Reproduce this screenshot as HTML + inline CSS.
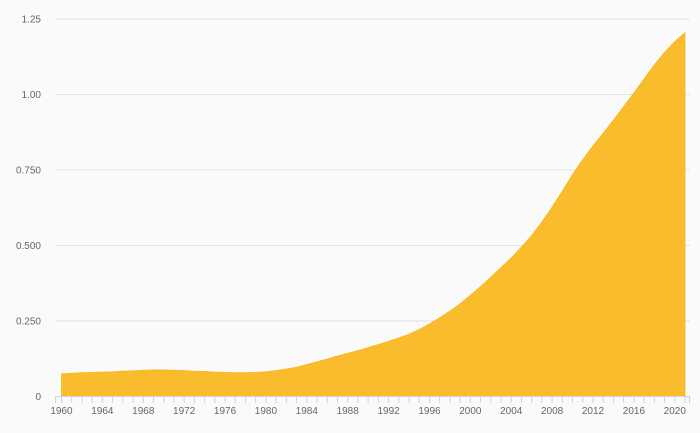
<!DOCTYPE html>
<html><head><meta charset="utf-8"><style>
body{margin:0;background:#fafafa;}
svg{display:block;font-family:"Liberation Sans",sans-serif;}
</style></head><body>
<svg width="700" height="433">
<rect width="700" height="433" fill="#fafafa"/>
<g id="grid"></g><g id="area"></g><g id="xaxis"></g><g id="yaxis"></g>
</svg>
<script>
const years=[];for(let y=1960;y<=2021;y++)years.push(y);
const values=[0.075,0.077,0.079,0.080,0.081,0.082,0.084,0.085,0.087,0.088,0.088,0.087,0.086,0.084,0.083,0.081,0.080,0.079,0.079,0.080,0.082,0.086,0.091,0.097,0.106,0.115,0.124,0.134,0.143,0.152,0.162,0.172,0.183,0.194,0.206,0.222,0.240,0.261,0.283,0.307,0.335,0.364,0.395,0.427,0.459,0.495,0.533,0.578,0.627,0.680,0.735,0.785,0.830,0.872,0.915,0.960,1.005,1.052,1.098,1.140,1.175,1.205];
const yTicks=[0,0.25,0.5,0.75,1.0,1.25];
const yTickLabels=["0","0.250","0.500","0.750","1.00","1.25"];
const ns="http://www.w3.org/2000/svg";
const X=y=>61.5+(y-1960)*(685-61.5)/61;
const Y=v=>396.5-v*(396.5-19)/1.25;
function mk(t,a,p){const e=document.createElementNS(ns,t);for(const k in a)e.setAttribute(k,a[k]);p.appendChild(e);return e;}
const grid=document.getElementById('grid'),yax=document.getElementById('yaxis');
yTicks.forEach((v,i)=>{
 if(v>0){const l=mk('line',{x1:55,x2:690,y1:Y(v),y2:Y(v),stroke:'#e3e3e3','stroke-width':1},grid);
 
 }
 const t=mk('text',{x:41,y:Y(v)+3.5,'text-anchor':'end','font-size':10,fill:'#666'},yax);t.textContent=yTickLabels[i];
 
 
});
let d='M'+X(years[0])+','+Y(0);
years.forEach((y,i)=>{d+=' L'+X(y).toFixed(2)+','+Y(values[i]).toFixed(2);});
d+=' L'+X(years[years.length-1])+','+Y(0)+' Z';
const p=mk('path',{d:d,fill:'#f9bc2c',stroke:'#f7b81e','stroke-width':0.8},document.getElementById('area'));


const xa=document.getElementById('xaxis');
const ax=mk('line',{x1:55,x2:690,y1:396.5,y2:396.5,stroke:'#c8d4ea'},xa);


years.forEach(y=>{
 mk('line',{x1:X(y),x2:X(y),y1:397,y2:403,stroke:'#c8d4ea'},xa);
 if((y-1960)%4===0){const t=mk('text',{x:X(y),y:414,'text-anchor':'middle','font-size':10,fill:'#666'},xa);t.textContent=y;
 
 }
});
mk('line',{x1:55.5,x2:55.5,y1:397,y2:403,stroke:'#c8d4ea'},xa);
mk('line',{x1:689.5,x2:689.5,y1:397,y2:403,stroke:'#c8d4ea'},xa);
</script>
</body></html>
